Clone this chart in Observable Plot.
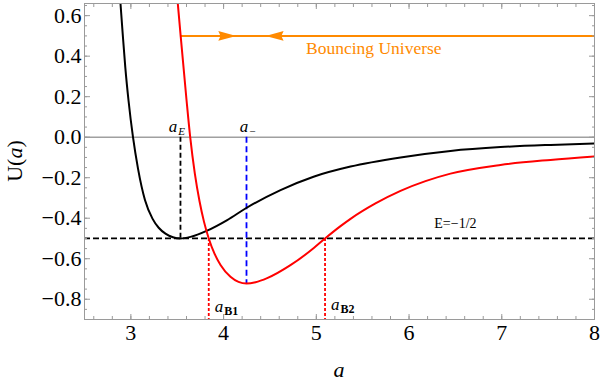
<!DOCTYPE html>
<html><head><meta charset="utf-8">
<script src="https://cdn.jsdelivr.net/npm/d3@7"></script>
<script src="https://cdn.jsdelivr.net/npm/@observablehq/plot@0.6"></script>
<style>body{margin:0;background:#fff} svg{display:block}</style>
</head><body><div id="chart"></div>
<script>
// Potential curves
const blackA = [2.888, 2.912, 2.940, 2.975, 3.023, 3.077, 3.152, 3.233, 3.300, 3.373, 3.454, 3.535, 3.643, 3.823, 4.039, 4.236, 4.614, 4.970, 5.369, 5.908, 6.447, 6.986, 7.525, 8];
const blackU = [0.66, 0.51, 0.345, 0.18, 0.0, -0.155, -0.31, -0.402, -0.447, -0.476, -0.494, -0.5, -0.492, -0.461, -0.409, -0.352, -0.261, -0.195, -0.145, -0.100, -0.068, -0.049, -0.038, -0.031];
const redA = [3.506, 3.535, 3.600, 3.640, 3.690, 3.740, 3.789, 3.840, 3.902, 3.967, 4.074, 4.161, 4.247, 4.344, 4.470, 4.721, 4.973, 5.094, 5.261, 5.369, 5.638, 5.908, 6.177, 6.447, 6.986, 7.525, 8];
const redU = [0.66, 0.51, 0.185, 0.0, -0.180, -0.315, -0.418, -0.5, -0.575, -0.631, -0.689, -0.714, -0.722, -0.716, -0.696, -0.632, -0.547, -0.5, -0.439, -0.403, -0.327, -0.265, -0.217, -0.180, -0.137, -0.112, -0.095];

// Special points
const energy = -0.5;
const aE = 3.535;
const aMinus = 4.247;
const uMinus = -0.722;
const aB1 = 3.84;
const aB2 = 5.094;
const bounceU = 0.5;
const bounceEnd = 8;
const arrowA = [4.04, 4.55];
const arrowRot = [0, 180];

// Axes
const xDomain = [2.5, 8];
const yDomain = [-0.9, 0.66];
const xMajor = [3, 4, 5, 6, 7, 8];
const yMajor = [-0.8, -0.6, -0.4, -0.2, 0, 0.2, 0.4, 0.6];
const xMinor = d3.range(2.6, 8.001, 0.2);
const yMinor = d3.range(-0.9, 0.66, 0.05);

const energyLabel = "E=−1/2";
const bounceLabel = "Bouncing Universe";

const blackData = blackA.map((a, i) => ({a, u: blackU[i]}));
const redData = redA.map((a, i) => ({a, u: redU[i]}));

const serif = "'Liberation Serif', 'Times New Roman', serif";
const orange = "#ff8a00";
const frameGray = "#9a9a9a";

const arrowSymbol = {
  draw(context, size) {
    const r = Math.sqrt(size / Math.PI);
    context.moveTo(r, 0);
    context.lineTo(-r, -0.55 * r);
    context.lineTo(-0.75 * r, 0);
    context.lineTo(-r, 0.55 * r);
    context.closePath();
  }
};

const tickOpts = {tickFormat: () => "", label: null, fill: "none", stroke: frameGray};

const plot = Plot.plot({
  width: 600,
  height: 384,
  marginLeft: 84,
  marginRight: 6,
  marginTop: 3,
  marginBottom: 65,
  style: {fontFamily: serif, fontSize: "22px", background: "#fff", color: "#000"},
  x: {domain: xDomain},
  y: {domain: yDomain},
  marks: [
    Plot.ruleY([0], {stroke: "#a0a0a0", strokeWidth: 1.5}),
    Plot.ruleY([energy], {stroke: "#000", strokeWidth: 1.8, strokeDasharray: "6,3"}),
    Plot.ruleX([aE], {y1: 0, y2: energy, stroke: "#000", strokeWidth: 1.8, strokeDasharray: "5,3"}),
    Plot.ruleX([aMinus], {y1: 0, y2: uMinus, stroke: "#0000ff", strokeWidth: 1.8, strokeDasharray: "6,3.5"}),
    Plot.ruleX([aB1, aB2], {y1: energy, y2: yDomain[0], stroke: "#ff0000", strokeWidth: 1.8, strokeDasharray: "3,2"}),
    Plot.ruleY([bounceU], {x1: aE, x2: bounceEnd, stroke: orange, strokeWidth: 2}),
    Plot.dot(arrowA, {x: d => d, y: () => bounceU, rotate: (d, i) => arrowRot[i], symbol: arrowSymbol, r: 9, fill: orange, stroke: "none"}),
    Plot.line(blackData, {x: "a", y: "u", stroke: "#000", strokeWidth: 2, curve: "monotone-x", clip: true}),
    Plot.line(redData, {x: "a", y: "u", stroke: "#ff0000", strokeWidth: 2, curve: "monotone-x", clip: true}),
    Plot.text([energyLabel], {x: () => 6.5, y: () => energy, text: d => d, dy: -10, lineAnchor: "bottom", fontSize: 14, fill: "#000"}),
    Plot.text([bounceLabel], {x: () => 5.62, y: () => bounceU, text: d => d, dy: 12, lineAnchor: "middle", fontSize: 17.5, fill: orange}),
    // tick labels
    Plot.axisX({ticks: xMajor, tickSize: 0, tickPadding: 0, dy: 5, tickFormat: d3.format("d"), label: null}),
    Plot.axisY({ticks: yMajor, tickSize: 0, tickPadding: 3, tickFormat: d3.format(".1f"), label: null}),
    // inward ticks on all four sides
    Plot.axisX({ticks: xMajor, tickSize: -5, ...tickOpts}),
    Plot.axisX({ticks: xMinor, tickSize: -3, ...tickOpts}),
    Plot.axisX({anchor: "top", ticks: xMajor, tickSize: -5, ...tickOpts}),
    Plot.axisX({anchor: "top", ticks: xMinor, tickSize: -3, ...tickOpts}),
    Plot.axisY({ticks: yMajor, tickSize: -6, ...tickOpts}),
    Plot.axisY({ticks: yMinor, tickSize: -3, ...tickOpts}),
    Plot.axisY({anchor: "right", ticks: yMajor, tickSize: -6, ...tickOpts}),
    Plot.axisY({anchor: "right", ticks: yMinor, tickSize: -3, ...tickOpts}),
    Plot.frame({stroke: frameGray, strokeWidth: 1})
  ]
});

document.getElementById("chart").appendChild(plot);

const svg = d3.select(plot);
const xs = plot.scale("x");
const ys = plot.scale("y");
const [xr0, xr1] = xs.range;
const [yr0, yr1] = ys.range;

// axis titles
const yl = svg.append("text")
  .attr("transform", `translate(${xr0 - 62},${(yr0 + yr1) / 2}) rotate(-90)`)
  .attr("text-anchor", "middle").attr("font-family", serif).attr("font-size", 22).attr("fill", "#000");
yl.append("tspan").text("U(");
yl.append("tspan").attr("font-style", "italic").text("a");
yl.append("tspan").text(")");

svg.append("text")
  .attr("x", (xr0 + xr1) / 2).attr("y", yr0 + 58)
  .attr("text-anchor", "middle").attr("font-family", serif).attr("font-size", 22)
  .attr("font-style", "italic").attr("fill", "#000").text("a");

function subLabel(xv, yv, sub, {dx = 0, dy = 0, anchor = "middle", bold = false, italic = true} = {}) {
  const t = svg.append("text")
    .attr("x", xs.apply(xv) + dx).attr("y", ys.apply(yv) + dy)
    .attr("text-anchor", anchor).attr("font-family", serif).attr("font-size", 17).attr("fill", "#000");
  t.append("tspan").attr("font-style", "italic").text("a");
  t.append("tspan").attr("font-size", bold ? 12 : 11).attr("dy", 3).attr("dx", 1)
    .attr("font-style", italic ? "italic" : "normal")
    .attr("font-weight", bold ? "bold" : "normal").text(sub);
}
subLabel(aE, 0, "E", {dx: -3, dy: -5});
subLabel(aMinus, 0, "−", {dx: 1.5, dy: -5, italic: false});
subLabel(aB1, yDomain[0], "B1", {dx: 6.5, dy: -7, anchor: "start", bold: true, italic: false});
subLabel(aB2, yDomain[0], "B2", {dx: 6.5, dy: -9, anchor: "start", bold: true, italic: false});
</script>
</body></html>
